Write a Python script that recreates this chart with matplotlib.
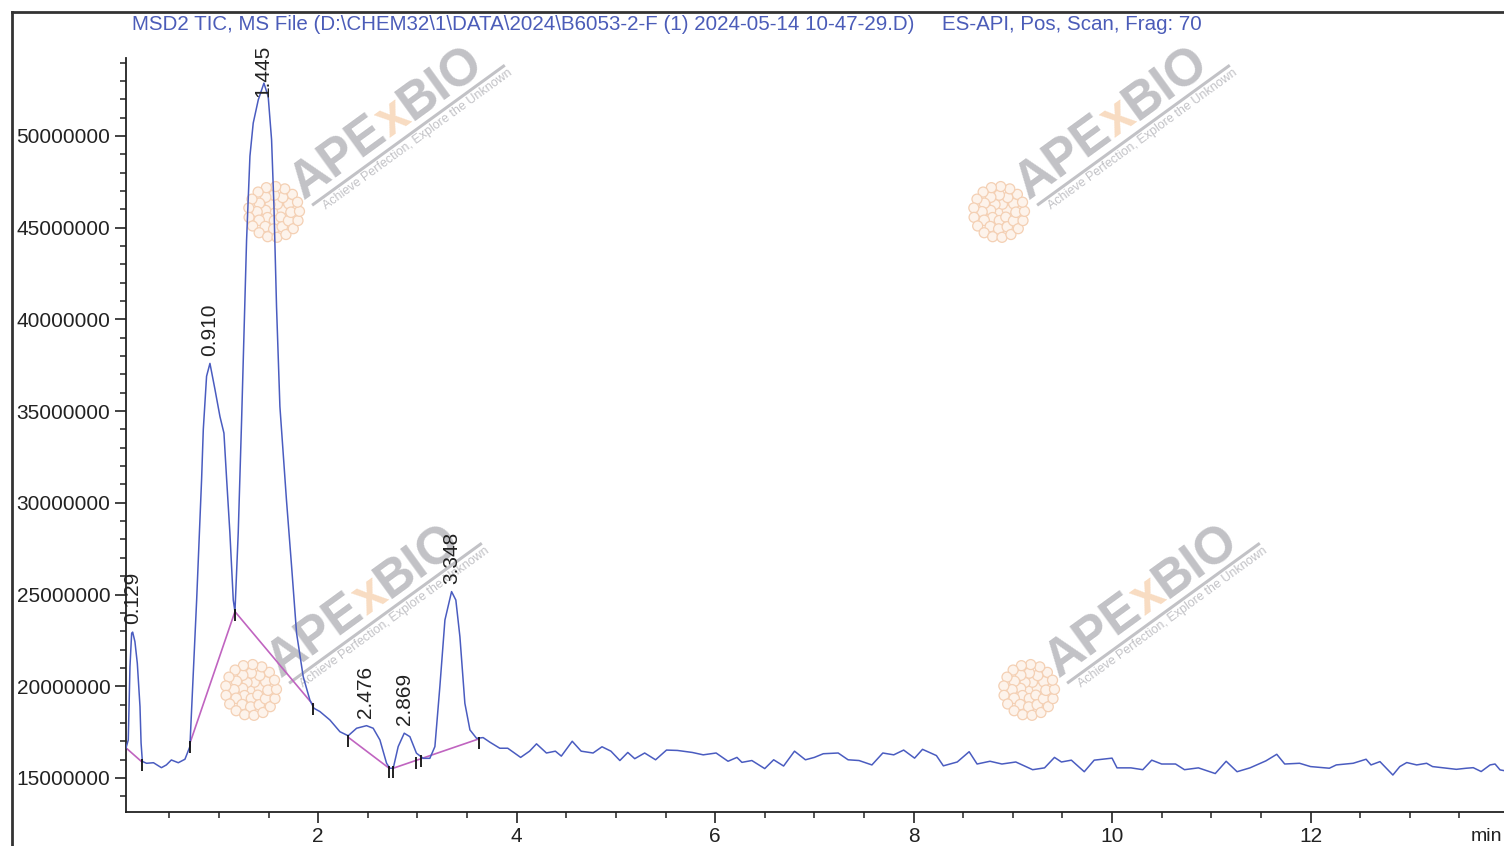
import numpy as np
import matplotlib
matplotlib.use("Agg")
import matplotlib.pyplot as plt
import matplotlib.ticker as mticker
from matplotlib.lines import Line2D
from matplotlib.patches import Circle
from matplotlib.font_manager import FontProperties

plt.rcParams['font.family'] = ['Liberation Sans', 'DejaVu Sans']

W, H = 1504, 846

# TIC trace, time in min, intensity in millions of counts
time_min = [0.062, 0.086, 0.103, 0.120, 0.130, 0.153, 0.177, 0.204, 0.215, 0.228,
            0.270, 0.340, 0.420, 0.470, 0.520, 0.590, 0.657, 0.707, 0.775, 0.825,
            0.842, 0.875, 0.909, 0.959, 1.010, 1.050, 1.077, 1.110, 1.144, 1.161,
            1.194, 1.228, 1.278, 1.312, 1.345, 1.396, 1.453, 1.496, 1.530, 1.554,
            1.580, 1.614, 1.680, 1.732, 1.782, 1.849, 1.916, 1.957, 2.017, 2.118,
            2.219, 2.302, 2.387, 2.487, 2.554, 2.622, 2.689, 2.722, 2.756, 2.806,
            2.867, 2.924, 2.990, 3.058, 3.125, 3.176, 3.226, 3.277, 3.344, 3.387,
            3.428, 3.478, 3.529, 3.596, 3.662, 3.730, 3.830, 3.910, 4.040, 4.130,
            4.200, 4.300, 4.390, 4.450, 4.560, 4.650, 4.770, 4.860, 4.950, 5.040,
            5.120, 5.190, 5.290, 5.400, 5.510, 5.620, 5.770, 5.880, 6.010, 6.130,
            6.220, 6.270, 6.370, 6.500, 6.590, 6.690, 6.800, 6.910, 7.000, 7.090,
            7.240, 7.340, 7.450, 7.580, 7.690, 7.800, 7.900, 8.010, 8.090, 8.230,
            8.300, 8.440, 8.560, 8.640, 8.770, 8.890, 9.030, 9.200, 9.320, 9.420,
            9.490, 9.590, 9.720, 9.820, 10.000, 10.050, 10.190, 10.310, 10.400, 10.500,
            10.640, 10.730, 10.870, 11.040, 11.150, 11.260, 11.390, 11.550, 11.660, 11.740,
            11.890, 12.000, 12.190, 12.260, 12.430, 12.560, 12.610, 12.700, 12.780, 12.830,
            12.900, 12.970, 13.070, 13.170, 13.230, 13.370, 13.470, 13.570, 13.640, 13.720,
            13.810, 13.860, 13.910, 13.950]
tic_m = [16.62, 17.07, 21.07, 22.89, 22.95, 22.43, 21.25, 18.89, 16.90, 15.90,
         15.80, 15.83, 15.56, 15.71, 15.98, 15.83, 16.02, 16.71, 24.70, 31.30,
         34.00, 36.90, 37.60, 36.20, 34.70, 33.80, 31.30, 28.36, 24.70, 24.07,
         28.36, 34.50, 44.30, 48.90, 50.70, 51.97, 52.88, 52.15, 49.80, 46.15,
         40.70, 35.25, 30.16, 26.52, 22.89, 20.52, 19.25, 18.80, 18.62, 18.16,
         17.52, 17.30, 17.71, 17.85, 17.71, 17.07, 15.80, 15.53, 15.53, 16.71,
         17.44, 17.25, 16.35, 16.07, 16.07, 16.71, 19.98, 23.61, 25.16, 24.70,
         22.70, 19.07, 17.62, 17.16, 17.20, 16.95, 16.62, 16.62, 16.12, 16.46,
         16.86, 16.36, 16.46, 16.19, 17.00, 16.46, 16.36, 16.70, 16.46, 15.95,
         16.39, 16.05, 16.36, 15.99, 16.52, 16.50, 16.39, 16.26, 16.36, 15.91,
         16.12, 15.85, 15.95, 15.51, 15.99, 15.65, 16.46, 15.99, 16.12, 16.32,
         16.36, 15.99, 15.95, 15.71, 16.36, 16.26, 16.52, 16.08, 16.56, 16.22,
         15.66, 15.87, 16.43, 15.76, 15.91, 15.76, 15.87, 15.45, 15.55, 16.12,
         15.87, 15.97, 15.34, 15.97, 16.08, 15.55, 15.55, 15.45, 15.97, 15.76,
         15.76, 15.45, 15.55, 15.24, 15.91, 15.34, 15.55, 15.93, 16.29, 15.76,
         15.80, 15.62, 15.53, 15.71, 15.80, 16.02, 15.71, 15.89, 15.44, 15.16,
         15.62, 15.84, 15.71, 15.80, 15.62, 15.53, 15.47, 15.53, 15.56, 15.35,
         15.71, 15.76, 15.44, 15.40]

# integration baselines (magenta)
base_a_t = [0.063, 0.220]
base_a_m = [16.64, 15.89]
base_b_t = [0.707, 1.161, 1.950]
base_b_m = [16.89, 24.07, 18.98]
base_c_t = [2.302, 2.715]
base_c_m = [17.22, 15.53]
base_d_t = [2.756, 3.619]
base_d_m = [15.53, 17.13]

mark_t = [0.220, 0.707, 1.161, 1.950, 2.302, 2.715, 2.756, 2.990, 3.040, 3.619]
mark_m = [15.89, 16.89, 24.07, 18.98, 17.22, 15.53, 15.53, 16.00, 16.10, 17.13]

peak_rt = [0.129, 0.910, 1.445, 2.476, 2.869, 3.348]
peak_lbl = ["0.129", "0.910", "1.445", "2.476", "2.869", "3.348"]

title_1 = r"MSD2 TIC, MS File (D:\CHEM32\1\DATA\2024\B6053-2-F (1) 2024-05-14 10-47-29.D)"
title_2 = "ES-API, Pos, Scan, Frag: 70"

# watermark anchors: (text start x, y, logo x, y) in pixels from top-left
marks_px = [(304, 200, 274, 212), (1029, 200, 999, 212),
            (281, 678, 251, 690), (1059, 678, 1029, 690)]

TRACE = '#4a5cc0'
BASE = '#c064c0'
TITLE = '#4b5cb8'
WM_GRAY = '#c2c2c6'
WM_ORANGE = '#f8dcc2'


def px_in(x, y):
    return x / 100.0, (H - y) / 100.0


def watermark(fig, renderer, tx, ty, lx, ly):
    tr = fig.dpi_scale_trans
    ang = 36.0
    ca, sa = np.cos(np.radians(ang)), np.sin(np.radians(ang))
    x0, y0 = px_in(tx, ty)
    fp = FontProperties(family='Liberation Sans', weight='bold', size=37)
    pos = 0.0
    for s, c in [("APE", WM_GRAY), ("x", WM_ORANGE), ("BIO", WM_GRAY)]:
        fig.text(x0 + pos * ca, y0 + pos * sa, s, transform=tr, rotation=ang,
                 rotation_mode='anchor', ha='left', va='baseline',
                 fontproperties=fp, color=c, zorder=-2)
        w = renderer.get_text_width_height_descent(s, fp, ismath=False)[0]
        pos += w / 100.0
    # underline
    d = 0.09
    sx, sy = x0 + d * sa + 0.05 * ca, y0 - d * ca + 0.05 * sa
    ln = pos + 0.10
    fig.add_artist(Line2D([sx, sx + ln * ca], [sy, sy + ln * sa], transform=tr,
                          color=WM_GRAY, lw=2.2, zorder=-2))
    # slogan
    d2 = 0.21
    fig.text(x0 + d2 * sa + 0.12 * ca, y0 - d2 * ca + 0.12 * sa,
             "Achieve Perfection, Explore the Unknown", transform=tr,
             rotation=ang, rotation_mode='anchor', ha='left', va='baseline',
             fontsize=9, color=WM_GRAY, zorder=-2)
    # flower-like logo
    cx, cy = px_in(lx, ly)
    rings = [(0.0, 1, 0.045), (0.085, 7, 0.05), (0.17, 12, 0.052), (0.255, 17, 0.05)]
    for rad, n, r in rings:
        for k in range(n):
            a = 2 * np.pi * k / n + rad * 3
            fig.add_artist(Circle((cx + rad * np.cos(a), cy + rad * np.sin(a)), r,
                                  transform=tr, facecolor='#fdf3eb',
                                  edgecolor='#f4d0b4', lw=0.9, zorder=-3))


fig = plt.figure(figsize=(W / 100, H / 100), dpi=100)
renderer = fig.canvas.get_renderer()

ax = fig.add_axes([125.7 / W, (H - 811.7) / H, 1 - 125.7 / W, (811.7 - 58) / H])
ax.set_facecolor('none')

t = np.array(time_min)
y = np.array(tic_m) * 1e6
ax.plot(t, y, color=TRACE, lw=1.1, zorder=3)

for bt, bm in [(base_a_t, base_a_m), (base_b_t, base_b_m),
               (base_c_t, base_c_m), (base_d_t, base_d_m)]:
    ax.plot(bt, np.array(bm) * 1e6, color=BASE, lw=1.2, zorder=2)
ax.plot(mark_t, np.array(mark_m) * 1e6 - 0.2e6, ls='none', marker='|',
        ms=9, mew=1.3, color='#111111', zorder=4)

for rt, lbl in zip(peak_rt, peak_lbl):
    apex = np.interp(rt, t, y)
    yl = min(apex + 0.45e6, 52.1e6)
    ax.text(rt, yl, lbl, rotation=90, ha='center', va='bottom', fontsize=15,
            color='#222222', clip_on=False, zorder=5)

ax.set_xlim(0.06, 13.95)
ax.set_ylim(13.16e6, 54.25e6)
ax.xaxis.set_major_locator(mticker.MultipleLocator(2))
ax.xaxis.set_minor_locator(mticker.MultipleLocator(0.5))
ax.yaxis.set_major_locator(mticker.MultipleLocator(5e6))
ax.yaxis.set_minor_locator(mticker.MultipleLocator(1e6))
ax.yaxis.set_major_formatter(mticker.FuncFormatter(lambda v, p: f"{v:.0f}"))
ax.tick_params(which='major', length=8, width=1.2, labelsize=15,
               labelcolor='#222222', color='#222222', pad=3)
ax.tick_params(which='minor', length=4.3, width=1.1, color='#222222')
for side in ['top', 'right']:
    ax.spines[side].set_visible(False)
for side in ['left', 'bottom']:
    ax.spines[side].set_linewidth(1.3)
    ax.spines[side].set_color('#222222')

# outer frame
fig.add_artist(Line2D([12 / W, 12 / W], [0, (H - 12) / H], transform=fig.transFigure,
                      color='#333333', lw=2))
fig.add_artist(Line2D([12 / W, 1], [(H - 12) / H, (H - 12) / H],
                      transform=fig.transFigure, color='#333333', lw=2))

fig.text(132 / W, 1 - 25 / H, title_1, color=TITLE, fontsize=14.8, va='center')
fig.text(942 / W, 1 - 25 / H, title_2, color=TITLE, fontsize=14.8, va='center')
fig.text(1471 / W, 1 - 836 / H, "min", fontsize=14, color='#222222', va='center')

for tx, ty, lx, ly in marks_px:
    watermark(fig, renderer, tx, ty, lx, ly)

fig.savefig("out.png", dpi=100)
